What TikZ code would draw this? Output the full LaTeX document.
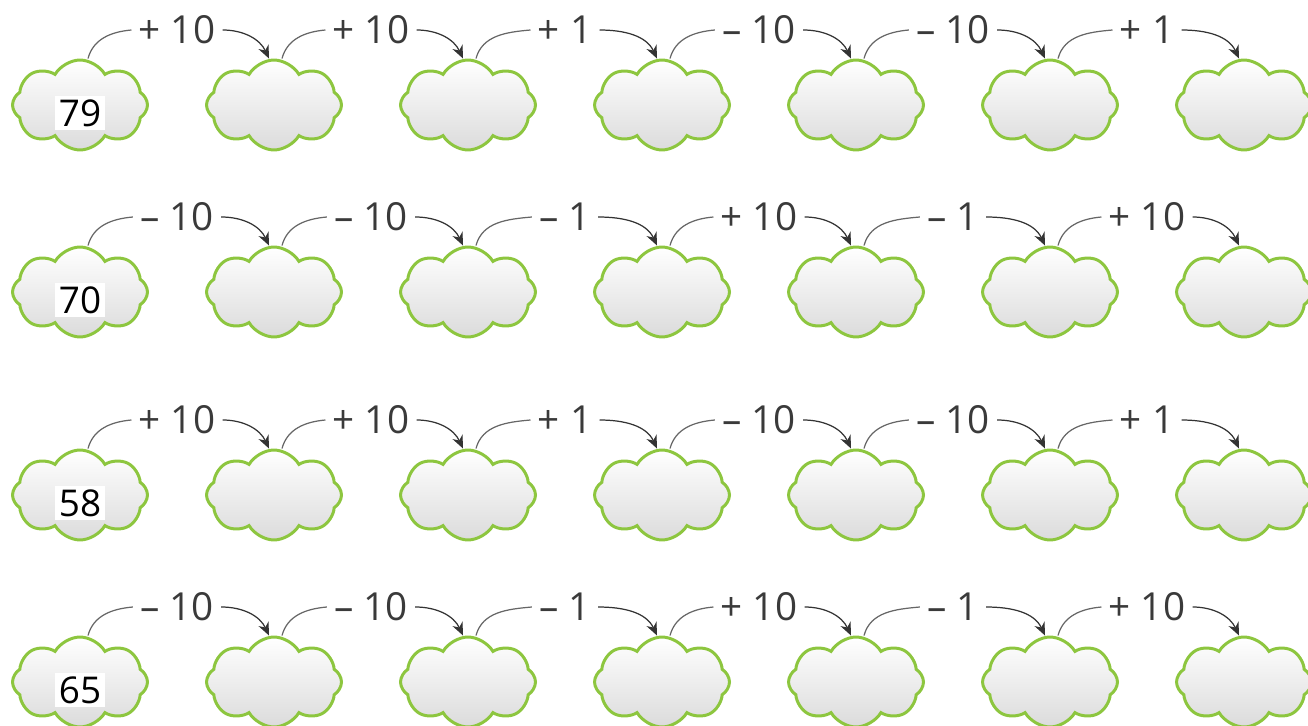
\documentclass[tikz,border=0pt]{standalone}
\usepackage{fontspec}
\setmainfont{Open Sans}
\usetikzlibrary{arrows.meta,shapes.symbols,positioning}
\definecolor{cloudgreen}{HTML}{8DC63F}
\definecolor{opgray}{HTML}{3A3A3A}

\begin{document}
\begin{tikzpicture}[x=0.02cm,y=-0.02cm,
    puff/.style={cloud,cloud puffs=8,cloud puff arc=120,aspect=1.55,draw=cloudgreen,line width=1.7pt,
      top color=white,bottom color=black!14,minimum width=2.7cm,minimum height=1.8cm},
    opnum/.style={font=\fontsize{22}{26}\selectfont,text=opgray,inner sep=4pt},
    given/.style={fill=white,font=\fontsize{21}{25}\selectfont,inner sep=2pt},
    arr/.style={-{Stealth[length=2.6mm,width=2.2mm]},black!80,line width=0.7pt},
    tail/.style={black!60,line width=0.7pt}]
  \useasboundingbox (0,0) rectangle (1308,726);
  % clouds, start number in the first one
  \foreach \row/\cy/\num in {1/105/79,2/292/70,3/495/58,4/682/65}{
    \foreach \k in {1,...,7}{
      \node[puff] (c\row\k) at ({194*\k-114},\cy) {};
    }
    \node[given] (n\row) at ([shift={(0,8)}]c\row1) {\num};
  }
  % steps
  \foreach \row/\cy in {1/105,3/495}{
    \foreach \k/\txt in {1/{+ 10},2/{+ 10},3/{+ 1},4/{– 10},5/{– 10},6/{+ 1}}{
      \node[opnum] (l\row\k) at ({194*\k-17},{\cy-75}) {\txt};
    }
  }
  \foreach \row/\cy in {2/292,4/682}{
    \foreach \k/\txt in {1/{– 10},2/{– 10},3/{– 1},4/{+ 10},5/{– 1},6/{+ 10}}{
      \node[opnum] (l\row\k) at ({194*\k-17},{\cy-75}) {\txt};
    }
  }
  \foreach \row in {1,2,3,4}{
    \foreach \k in {1,...,6}{
      \pgfmathtruncatemacro{\nx}{\k+1}
      \draw[tail] ([shift={(8,0)}]c\row\k.north) to[out=75,in=185] (l\row\k.west);
      \draw[arr] (l\row\k.east) to[out=0,in=115] ([shift={(-5,0)}]c\row\nx.north);
    }
  }
\end{tikzpicture}
\end{document}
